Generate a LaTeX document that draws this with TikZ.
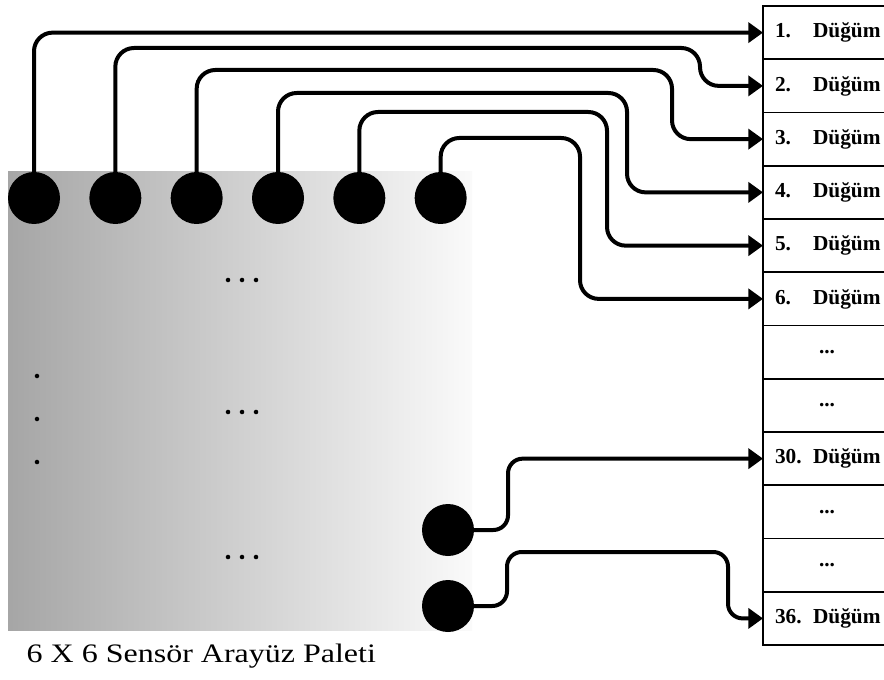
\documentclass[tikz,border=0pt]{standalone}
\usepackage{fontspec}
\setmainfont{Liberation Serif}
\usetikzlibrary{positioning,arrows.meta,calc}

\newcommand{\dgm}[1]{\makebox[28.5pt][l]{#1}Düğüm}

\begin{document}
\begin{tikzpicture}[
    x=0.75pt, y=-0.75pt,
    >={Triangle[length=11pt,width=15pt]},
    sensor/.style={circle, fill=black, minimum size=39pt, inner sep=0pt, outer sep=0pt},
    rowbox/.style={draw, line width=1.4pt, minimum height=39.94pt, text width=78pt,
        inner xsep=9pt, inner ysep=0pt, outer sep=0pt, align=left,
        font=\fontsize{16}{18}\selectfont\bfseries},
    dotbox/.style={rowbox, align=center},
    wire/.style={->, line width=3pt, rounded corners=14pt},
]
\clip (0,0) rectangle (884,680);

% ---- Palette -------------------------------------------------------
\shade[left color=black!35, right color=black!2] (8,172) rectangle (472,630);
\foreach \y in {280,412,557}
    \foreach \x in {228,242,256}
        \fill (\x,\y) circle[radius=1.7pt];
\foreach \y in {376,419,462}
    \fill (37,\y) circle[radius=1.7pt];

% ---- Sensors -------------------------------------------------------
\node[sensor] (s1) at (34,198) {};
\node[sensor, right=22pt of s1] (s2) {};
\node[sensor, right=22pt of s2] (s3) {};
\node[sensor, right=22pt of s3] (s4) {};
\node[sensor, right=22pt of s4] (s5) {};
\node[sensor, right=22pt of s5] (s6) {};
\node[sensor] (s30) at (448,530) {};
\node[sensor, below=18pt of s30] (s36) {};

\node[anchor=base west, font=\fontsize{20}{22}\selectfont] (cap) at (22,662)
    {\scalebox{1.2}[1]{6 X 6 Sensör Arayüz Paleti}};

% ---- Node table ----------------------------------------------------
\node[rowbox, anchor=north west] (r1) at (763,6) {\dgm{1.}};
\node[rowbox, below=0pt of r1] (r2) {\dgm{2.}};
\node[rowbox, below=0pt of r2] (r3) {\dgm{3.}};
\node[rowbox, below=0pt of r3] (r4) {\dgm{4.}};
\node[rowbox, below=0pt of r4] (r5) {\dgm{5.}};
\node[rowbox, below=0pt of r5] (r6) {\dgm{6.}};
\node[dotbox, below=0pt of r6] (r7) {...};
\node[dotbox, below=0pt of r7] (r8) {...};
\node[rowbox, below=0pt of r8] (r9) {\dgm{30.}};
\node[dotbox, below=0pt of r9] (r10) {...};
\node[dotbox, below=0pt of r10] (r11) {...};
\node[rowbox, below=0pt of r11] (r12) {\dgm{36.}};

% ---- Wires ---------------------------------------------------------
\draw[wire] (s1.north) |- (r1.west);
\draw[wire] (s2.north) |- (700,48) |- (r2.west);
\draw[wire] (s3.north) |- (672,70) |- (r3.west);
\draw[wire] (s4.north) |- (627,93) |- (r4.west);
\draw[wire] (s5.north) |- (607,112) |- (r5.west);
\draw[wire] (s6.north) |- (580,138) |- (r6.west);
\draw[wire, rounded corners=11pt] (s30.east) -| ($(r9.west)+(-255,0)$) -- (r9.west);
\draw[wire, rounded corners=11pt] (s36.east) -| (507,552) -| ($(r12.west)+(-35,0)$) -- (r12.west);

\end{tikzpicture}
\end{document}
